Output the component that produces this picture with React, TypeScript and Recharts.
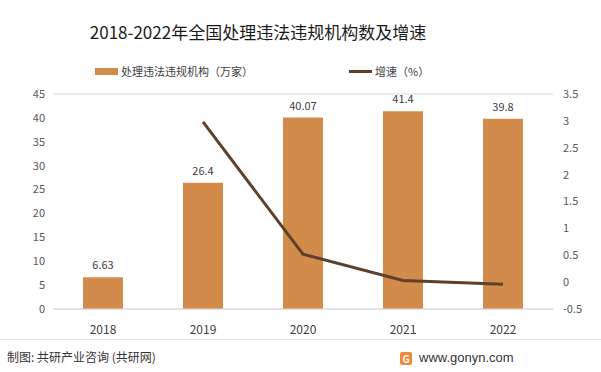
import {
  ComposedChart,
  Bar,
  Line,
  XAxis,
  YAxis,
  CartesianGrid,
  LabelList,
} from "recharts";

const years = ["2018", "2019", "2020", "2021", "2022"];
const institutions = [6.63, 26.4, 40.07, 41.4, 39.8]; // 万家
const growth: (number | null)[] = [null, 2.98, 0.52, 0.03, -0.04]; // %

const leftTicks = [0, 5, 10, 15, 20, 25, 30, 35, 40, 45];
const rightTicks = [-0.5, 0, 0.5, 1, 1.5, 2, 2.5, 3, 3.5];

const data = years.map((y, i) => ({
  year: y,
  count: institutions[i],
  rate: growth[i],
}));

const BAR = "#D38B4C";
const LINE = "#5E412B";
const FONT = '"Noto Sans CJK SC", "Noto Sans", sans-serif';

export default function App() {
  return (
    <div
      style={{
        position: "absolute",
        left: 0,
        top: 0,
        width: 601,
        height: 372,
        background: "#fff",
        fontFamily: FONT,
        overflow: "hidden",
      }}
    >
      <div
        style={{
          position: "absolute",
          top: 19,
          left: 0,
          width: 516,
          textAlign: "center",
          fontSize: 17,
          color: "#1a1a1a",
        }}
      >
        2018-2022年全国处理违法违规机构数及增速
      </div>

      {/* legend */}
      <div
        style={{
          position: "absolute",
          top: 63,
          left: 95,
          fontSize: 11,
          color: "#404040",
          display: "flex",
          alignItems: "center",
        }}
      >
        <span
          style={{ width: 23, height: 7, background: BAR, display: "inline-block", marginRight: 3 }}
        />
        处理违法违规机构（万家）
      </div>
      <div
        style={{
          position: "absolute",
          top: 63,
          left: 349,
          fontSize: 11,
          color: "#404040",
          display: "flex",
          alignItems: "center",
        }}
      >
        <span
          style={{ width: 23, height: 3, background: LINE, display: "inline-block", marginRight: 3 }}
        />
        增速（%）
      </div>

      <ComposedChart
        width={601}
        height={372}
        data={data}
        margin={{ top: 94, right: 0, left: 0, bottom: 33 }}
        barCategoryGap="30%"
      >
        <CartesianGrid vertical={false} stroke="#d9d9d9" />
        <XAxis
          dataKey="year"
          axisLine={{ stroke: "#d9d9d9" }}
          tickLine={false}
          tick={{ fontSize: 12, fill: "#404040", fontFamily: FONT }}
          tickMargin={10}
          height={30}
        />
        <YAxis
          yAxisId="left"
          width={53}
          domain={[0, 45]}
          ticks={leftTicks}
          interval={0}
          axisLine={false}
          tickLine={false}
          tick={{ fontSize: 11, fill: "#595959", fontFamily: FONT }}
          tickMargin={2}
        />
        <YAxis
          yAxisId="right"
          orientation="right"
          width={48}
          domain={[-0.5, 3.5]}
          ticks={rightTicks}
          interval={0}
          axisLine={false}
          tickLine={false}
          tick={{ fontSize: 11, fill: "#595959", fontFamily: FONT, textAnchor: "start" }}
          tickMargin={4}
        />
        <Bar yAxisId="left" dataKey="count" fill={BAR} isAnimationActive={false}>
          <LabelList
            dataKey="count"
            position="top"
            offset={8}
            style={{ fontSize: 11, fill: "#404040", fontFamily: FONT }}
          />
        </Bar>
        <Line
          yAxisId="right"
          dataKey="rate"
          stroke={LINE}
          strokeWidth={3}
          dot={false}
          activeDot={false}
          connectNulls={false}
          isAnimationActive={false}
        />
      </ComposedChart>

      <div
        style={{
          position: "absolute",
          top: 339,
          left: 0,
          width: 601,
          height: 1,
          background: "#e6e6e6",
        }}
      />
      <div
        style={{
          position: "absolute",
          top: 348,
          left: 7,
          fontSize: 12,
          color: "#333",
        }}
      >
        制图: 共研产业咨询 (共研网)
      </div>
      <div
        style={{
          position: "absolute",
          top: 352,
          left: 400,
          width: 12,
          height: 13,
          background: "#F08A3C",
          borderRadius: 2,
          color: "#fff",
          fontSize: 10,
          lineHeight: "13px",
          textAlign: "center",
          fontWeight: 700,
        }}
      >
        G
      </div>
      <div
        style={{
          position: "absolute",
          top: 348,
          left: 419,
          fontSize: 13,
          color: "#333",
          fontFamily: '"Liberation Sans", Arial, sans-serif',
          lineHeight: "19px",
        }}
      >
        www.gonyn.com
      </div>
    </div>
  );
}
